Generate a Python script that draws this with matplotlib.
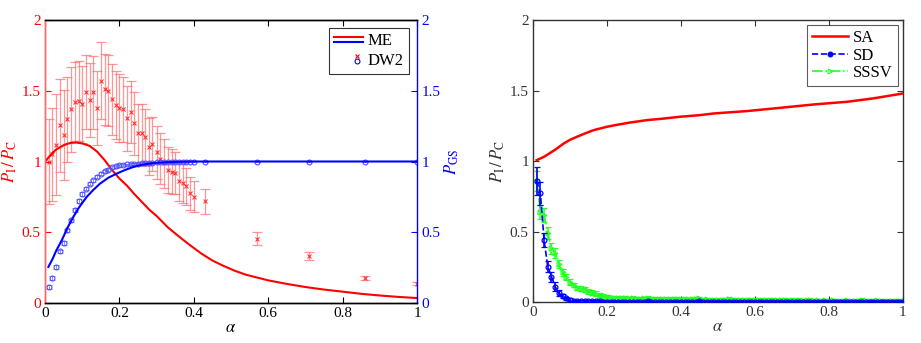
import matplotlib
matplotlib.use("Agg")
import matplotlib.pyplot as plt
from matplotlib.lines import Line2D
from matplotlib.legend_handler import HandlerBase

plt.rcParams['font.family'] = ['Liberation Serif', 'DejaVu Serif']
plt.rcParams['mathtext.fontset'] = 'stix'

# ---------------- Left panel data ----------------
me_alpha_red = [0.0, 0.01, 0.02, 0.03, 0.04, 0.05, 0.06, 0.07, 0.085, 0.10, 0.12, 0.14,
                0.16, 0.18, 0.20, 0.22, 0.24, 0.26, 0.28, 0.30, 0.33, 0.36, 0.39, 0.42,
                0.45, 0.48, 0.51, 0.54, 0.57, 0.60, 0.65, 0.70, 0.75, 0.80, 0.85, 0.90,
                0.95, 1.0]
me_ratio = [1.0, 1.03, 1.06, 1.085, 1.10, 1.115, 1.125, 1.132, 1.134, 1.128, 1.11, 1.07,
            1.01, 0.94, 0.88, 0.83, 0.77, 0.715, 0.66, 0.615, 0.535, 0.47, 0.408, 0.35,
            0.30, 0.262, 0.228, 0.20, 0.18, 0.16, 0.135, 0.113, 0.095, 0.08, 0.065, 0.053,
            0.043, 0.035]
me_alpha_blue = [0.009, 0.02, 0.03, 0.045, 0.06, 0.076, 0.09, 0.112, 0.13, 0.148, 0.17,
                 0.193, 0.215, 0.238, 0.26, 0.283, 0.30, 0.327, 0.36, 0.40, 0.435,
                 0.57, 0.71, 0.86, 1.0]
me_pgs = [0.255, 0.31, 0.37, 0.443, 0.53, 0.608, 0.67, 0.75, 0.80, 0.844, 0.885,
          0.915, 0.94, 0.962, 0.976, 0.986, 0.991, 0.995, 0.998, 1.0, 1.0,
          1.0, 1.0, 1.0, 1.0]

dw2_alpha = [0.01, 0.02, 0.03, 0.04, 0.05, 0.06, 0.07, 0.08, 0.09, 0.10,
             0.11, 0.12, 0.13, 0.14, 0.15, 0.16, 0.17, 0.18, 0.19, 0.20,
             0.21, 0.22, 0.23, 0.24, 0.25, 0.26, 0.27, 0.28, 0.287, 0.30,
             0.31, 0.32, 0.33, 0.34, 0.35, 0.36, 0.37, 0.38, 0.39, 0.40,
             0.43, 0.57, 0.71, 0.86, 1.0]
dw2_ratio = [1.00, 1.05, 1.12, 1.255, 1.186, 1.30, 1.368, 1.422, 1.427, 1.403,
             1.493, 1.434, 1.488, 1.38, 1.571, 1.509, 1.50, 1.439, 1.401, 1.375,
             1.37, 1.304, 1.351, 1.269, 1.198, 1.198, 1.17, 1.104, 1.123, 1.064,
             1.021, 0.986, 0.939, 0.927, 0.92, 0.861, 0.847, 0.825, 0.774, 0.75,
             0.719, 0.455, 0.333, 0.179, 0.137]
dw2_ratio_err = [0.30, 0.33, 0.36, 0.33, 0.32, 0.30, 0.30, 0.28, 0.28, 0.27,
                 0.26, 0.26, 0.26, 0.26, 0.27, 0.25, 0.25, 0.25, 0.24, 0.24,
                 0.23, 0.23, 0.22, 0.22, 0.21, 0.21, 0.20, 0.20, 0.19, 0.19,
                 0.18, 0.17, 0.16, 0.16, 0.15, 0.14, 0.14, 0.13, 0.12, 0.11,
                 0.09, 0.045, 0.03, 0.015, 0.01]
dw2_pgs = [0.113, 0.177, 0.255, 0.366, 0.425, 0.514, 0.585, 0.656, 0.722, 0.769,
           0.809, 0.842, 0.866, 0.892, 0.915, 0.932, 0.943, 0.958, 0.965, 0.972,
           0.976, 0.979, 0.981, 0.983, 0.985, 0.987, 0.989, 0.990, 0.991, 0.993,
           0.994, 0.995, 0.996, 0.997, 0.998, 0.998, 0.999, 0.999, 1.0, 1.0,
           1.0, 1.0, 1.0, 1.0, 1.0]
dw2_pgs_err = [0.012] * 10 + [0.01] * 10 + [0.006] * 25

# ---------------- Right panel data ----------------
sa_alpha = [0.01, 0.03, 0.06, 0.083, 0.10, 0.119, 0.14, 0.164, 0.2, 0.23, 0.263, 0.308,
            0.35, 0.398, 0.45, 0.488, 0.578, 0.668, 0.759, 0.849, 0.92, 1.0]
sa_ratio = [1.006, 1.03, 1.08, 1.124, 1.15, 1.172, 1.195, 1.219, 1.243, 1.258, 1.273, 1.29,
            1.30, 1.314, 1.325, 1.337, 1.354, 1.377, 1.401, 1.42, 1.444, 1.479]

grid_alpha = [round(0.01 * k, 2) for k in range(1, 101)]
sd_ratio = [0.86, 0.77, 0.44, 0.25, 0.18, 0.11, 0.065, 0.04, 0.025, 0.015,
            0.010, 0.007, 0.006, 0.005, 0.005, 0.004, 0.004, 0.004, 0.003, 0.003,
            0.003, 0.002, 0.003, 0.002, 0.003, 0.002, 0.002, 0.003, 0.002, 0.002,
            0.004, 0.002, 0.002, 0.003, 0.002, 0.002, 0.002, 0.003, 0.002, 0.002,
            0.002, 0.003, 0.002, 0.002, 0.004, 0.002, 0.002, 0.002, 0.002, 0.002,
            0.002, 0.002, 0.003, 0.002, 0.002, 0.002, 0.002, 0.002, 0.002, 0.002,
            0.002, 0.002, 0.002, 0.003, 0.002, 0.002, 0.002, 0.002, 0.002, 0.002,
            0.002, 0.002, 0.002, 0.002, 0.002, 0.002, 0.002, 0.002, 0.002, 0.002,
            0.002, 0.002, 0.002, 0.002, 0.002, 0.002, 0.002, 0.002, 0.002, 0.002,
            0.002, 0.002, 0.002, 0.002, 0.002, 0.002, 0.002, 0.002, 0.002, 0.002]
sd_err = [0.10, 0.08, 0.05, 0.04, 0.035, 0.03, 0.02, 0.015, 0.012, 0.01] + [0.007] * 90
sssv_ratio = [0.86, 0.64, 0.62, 0.49, 0.38, 0.35, 0.27, 0.21, 0.18, 0.14,
              0.12, 0.10, 0.095, 0.09, 0.075, 0.065, 0.06, 0.045, 0.04, 0.035,
              0.032, 0.03, 0.028, 0.03, 0.027, 0.025, 0.028, 0.024, 0.022, 0.026,
              0.028, 0.022, 0.02, 0.024, 0.021, 0.02, 0.022, 0.019, 0.02, 0.018,
              0.02, 0.018, 0.022, 0.019, 0.025, 0.017, 0.018, 0.016, 0.017, 0.015,
              0.016, 0.015, 0.019, 0.016, 0.014, 0.015, 0.013, 0.014, 0.015, 0.013,
              0.014, 0.012, 0.013, 0.012, 0.014, 0.011, 0.012, 0.013, 0.011, 0.012,
              0.011, 0.012, 0.010, 0.011, 0.012, 0.010, 0.011, 0.010, 0.011, 0.010,
              0.011, 0.010, 0.009, 0.010, 0.011, 0.010, 0.009, 0.010, 0.012, 0.010,
              0.009, 0.010, 0.011, 0.009, 0.010, 0.009, 0.010, 0.009, 0.010, 0.009]
sssv_err = [0.07, 0.05, 0.05, 0.04, 0.04, 0.035, 0.03, 0.025, 0.022, 0.02] + [0.017] * 10 + [0.013] * 80

yticks = [0, 0.5, 1, 1.5, 2]
ytick_labels = ['0', '0.5', '1', '1.5', '2']
xticks = [0, 0.2, 0.4, 0.6, 0.8, 1]
xtick_labels = ['0', '0.2', '0.4', '0.6', '0.8', '1']

FS = 11
GREEN = (0.15, 1.0, 0.15)
GRAY = '#333333'


class HandlerStack(HandlerBase):
    """Draw a tuple of handles stacked vertically in one legend entry."""
    def create_artists(self, legend, orig_handle, xdescent, ydescent, width, height,
                       fontsize, trans):
        arts = []
        for i, h in enumerate(orig_handle):
            y = -ydescent + height * (0.5 + (0.5 - i) * 0.4)
            if h.get_linestyle() not in ('None', 'none', '', ' '):
                ln = Line2D([-xdescent, -xdescent + width], [y, y], color=h.get_color(),
                            lw=h.get_linewidth(), transform=trans)
            else:
                ln = Line2D([-xdescent + width * 0.8], [y], marker=h.get_marker(),
                            markersize=h.get_markersize(), markerfacecolor=h.get_markerfacecolor(),
                            markeredgecolor=h.get_markeredgecolor(),
                            markeredgewidth=h.get_markeredgewidth(),
                            linestyle='None', transform=trans)
            arts.append(ln)
        return arts


fig = plt.figure(figsize=(9.21, 3.43), dpi=100)

# ---------------- Left panel ----------------
ax1 = fig.add_axes([0.0489, 0.1166, 0.4039, 0.8251])
ax2 = ax1.twinx()

ax1.errorbar(dw2_alpha, dw2_ratio, yerr=dw2_ratio_err, fmt='none', ecolor=(1.0, 0.45, 0.45),
             elinewidth=0.9, capsize=3.5, capthick=0.9, alpha=0.75, zorder=2)
ax1.plot(dw2_alpha, dw2_ratio, linestyle='None', marker='x', color='red', markersize=2.8,
         markeredgewidth=0.8, alpha=0.75, zorder=3)
ax1.plot(me_alpha_red, me_ratio, color='red', lw=1.5, zorder=4)

ax2.errorbar(dw2_alpha, dw2_pgs, yerr=dw2_pgs_err, fmt='none', ecolor=(0.35, 0.35, 1.0),
             elinewidth=0.6, capsize=2.5, capthick=0.6, alpha=0.8)
ax2.plot(dw2_alpha, dw2_pgs, linestyle='None', marker='o', markerfacecolor='none',
         markeredgecolor=(0.3, 0.3, 1.0), markersize=3.5, markeredgewidth=0.8)
ax2.plot(me_alpha_blue, me_pgs, color='blue', lw=1.5)

for a in (ax1, ax2):
    a.set_xlim(0, 1)
    a.set_ylim(0, 2)
ax1.set_xticks(xticks)
ax1.set_xticklabels(xtick_labels, fontsize=FS)
ax1.set_yticks(yticks)
ax1.set_yticklabels(ytick_labels, fontsize=FS, color='red')
ax2.set_yticks(yticks)
ax2.set_yticklabels(ytick_labels, fontsize=FS, color='blue')
ax1.tick_params(axis='x', direction='in', top=True, length=4, width=0.8, pad=3)
ax1.tick_params(axis='y', direction='in', length=4, width=0.8, colors='red', pad=3)
ax2.tick_params(axis='y', direction='in', length=4, width=0.8, colors='blue', pad=3)
ax1.spines['left'].set_color((1.0, 0.4, 0.4))
ax2.spines['left'].set_color((1.0, 0.4, 0.4))
ax2.spines['right'].set_color('blue')
ax1.spines['right'].set_visible(False)
for s in ('top', 'bottom'):
    ax1.spines[s].set_color('black')
    ax2.spines[s].set_color('black')
for a in (ax1, ax2):
    for s in a.spines.values():
        s.set_linewidth(1.0)
ax1.set_xlabel(r'$\alpha$', fontsize=FS + 1, labelpad=0)
ax1.set_ylabel(r'$P_{\mathrm{I}}\,/\,P_{\mathrm{C}}$', fontsize=FS + 1, color='red', labelpad=2)
ax2.set_ylabel(r'$P_{\mathrm{GS}}$', fontsize=FS + 1, color='blue', labelpad=2)

h_me = (Line2D([], [], color='red', lw=1.5), Line2D([], [], color='blue', lw=1.5))
h_dw = (Line2D([], [], linestyle='None', marker='x', color='red', markersize=3, markeredgewidth=0.8),
        Line2D([], [], linestyle='None', marker='o', markerfacecolor='none', markeredgecolor='blue',
               markersize=3.5, markeredgewidth=0.8))
leg1 = ax2.legend([h_me, h_dw], ['ME', 'DW2'], handler_map={tuple: HandlerStack()},
                  loc='upper right', fontsize=FS + 1, frameon=True, fancybox=False,
                  edgecolor='black', borderpad=0.3, handlelength=1.7, handletextpad=0.3,
                  labelspacing=0.2, borderaxespad=0.5)
leg1.get_frame().set_linewidth(0.8)

# ---------------- Right panel ----------------
ax3 = fig.add_axes([0.5787, 0.1195, 0.4017, 0.8222])
ax3.errorbar(grid_alpha, sssv_ratio, yerr=sssv_err, color=GREEN, ecolor=GREEN,
             linestyle='-.', lw=1.2, marker='>', markersize=3.5, markerfacecolor='none',
             markeredgewidth=0.9, capsize=2.5, elinewidth=1.1, capthick=1.1, zorder=2)
ax3.errorbar(grid_alpha, sd_ratio, yerr=sd_err, color='blue', ecolor='blue',
             linestyle='--', lw=1.2, marker='o', markersize=3.5, markerfacecolor='none',
             markeredgewidth=0.9, capsize=2.5, elinewidth=1.2, capthick=1.1, zorder=3)
ax3.plot(sa_alpha, sa_ratio, color='red', lw=1.8, zorder=4)

ax3.set_xlim(0, 1)
ax3.set_ylim(0, 2)
ax3.set_xticks(xticks)
ax3.set_xticklabels(xtick_labels, fontsize=FS)
ax3.set_yticks(yticks)
ax3.set_yticklabels(ytick_labels, fontsize=FS)
ax3.tick_params(direction='in', top=True, right=True, length=4, width=0.8, colors=GRAY, pad=3)
for s in ax3.spines.values():
    s.set_color(GRAY)
    s.set_linewidth(1.0)
ax3.set_xlabel(r'$\alpha$', fontsize=FS + 1, labelpad=0, color=GRAY)
ax3.set_ylabel(r'$P_{\mathrm{I}}\,/\,P_{\mathrm{C}}$', fontsize=FS + 1, color=GRAY, labelpad=2)

leg_handles = [Line2D([], [], color='red', lw=1.8),
               Line2D([], [], color='blue', lw=1.2, linestyle='--', marker='o', markersize=3.5,
                      markerfacecolor='blue', markeredgewidth=0.8),
               Line2D([], [], color=GREEN, lw=1.2, linestyle='-.', marker='>', markersize=3.5,
                      markerfacecolor='none', markeredgewidth=0.8)]
leg3 = ax3.legend(leg_handles, ['SA', 'SD', 'SSSV'], loc='upper right',
                  fontsize=FS + 1, frameon=True, fancybox=False, edgecolor=GRAY,
                  borderpad=0.3, handlelength=2.2, handletextpad=0.3, labelspacing=0.1,
                  borderaxespad=0.3)
leg3.get_frame().set_linewidth(0.8)

fig.savefig('out.png', dpi=100)
